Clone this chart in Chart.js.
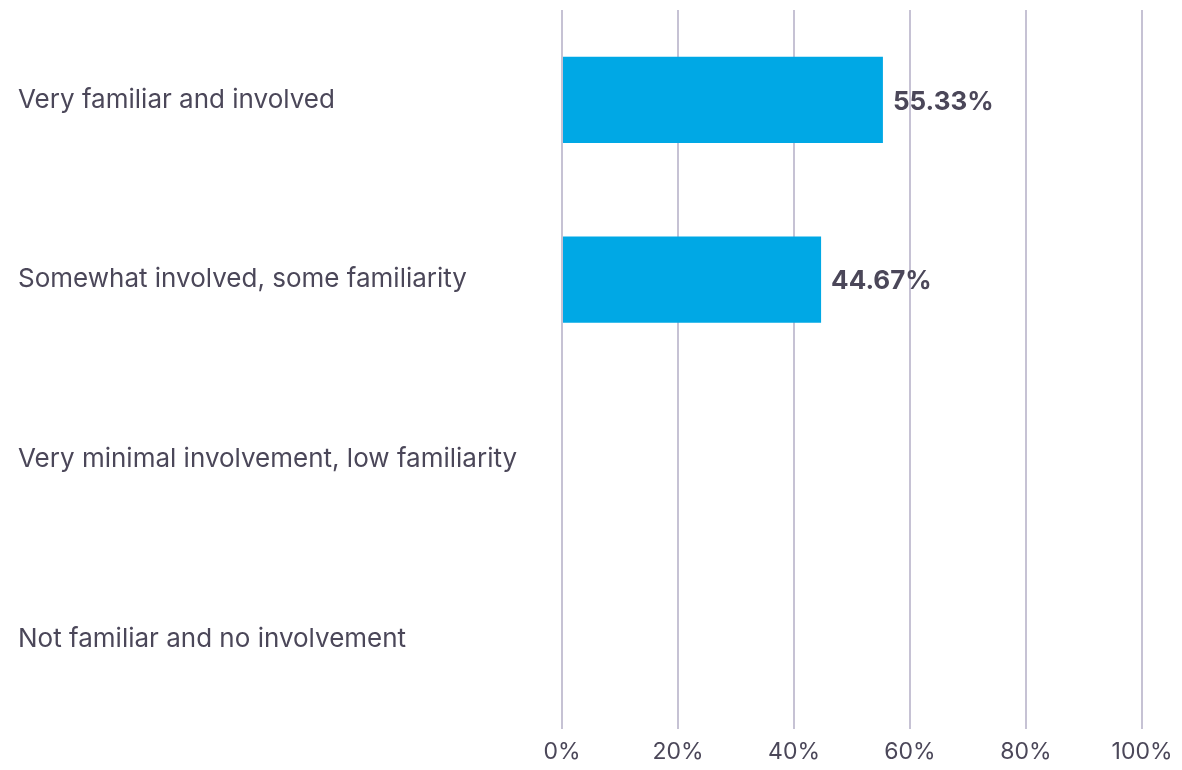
<!DOCTYPE html>
<html>
<head>
<meta charset="utf-8">
<script src="https://cdn.jsdelivr.net/npm/chart.js@4.4.1/dist/chart.umd.min.js"></script>
<style>
  html, body { margin: 0; padding: 0; background: #fff; }
  #wrap { width: 1182px; height: 770px; }
</style>
</head>
<body>
<div id="wrap"><canvas id="familiarityChart" width="1182" height="770"></canvas></div>
<script>
const categories = [
  'Very familiar and involved',
  'Somewhat involved, some familiarity',
  'Very minimal involvement, low familiarity',
  'Not familiar and no involvement'
];
const shares = [55.33, 44.67, 0, 0];
const xTicks = [0, 20, 40, 60, 80, 100];

const textColor = '#4b4759';
const fontName = 'Inter, "Noto Sans", sans-serif';

// writes the percentage at the end of each non-empty bar
const valueLabels = {
  id: 'valueLabels',
  afterDatasetsDraw(chart) {
    const ctx = chart.ctx;
    const meta = chart.getDatasetMeta(0);
    ctx.save();
    ctx.font = 'bold 26px ' + fontName;
    ctx.fillStyle = textColor;
    ctx.textAlign = 'left';
    ctx.textBaseline = 'middle';
    meta.data.forEach((bar, i) => {
      const v = chart.data.datasets[0].data[i];
      if (!v) return;
      ctx.fillText(v.toFixed(2) + '%', bar.x + 10, bar.y + 2);
    });
    ctx.restore();
  }
};

const data = {
  labels: categories,
  datasets: [{
    data: shares,
    backgroundColor: '#00a8e5',
    borderWidth: 0,
    categoryPercentage: 1,
    barPercentage: 0.48
  }]
};

const config = {
  type: 'bar',
  data: data,
  options: {
    indexAxis: 'y',
    responsive: false,
    animation: false,
    layout: { padding: { left: 18, right: 40, top: 10, bottom: 0 } },
    plugins: {
      legend: { display: false },
      tooltip: { enabled: false }
    },
    scales: {
      x: {
        min: 0,
        max: 100,
        afterBuildTicks(scale) {
          scale.ticks = xTicks.map(v => ({ value: v }));
        },
        afterFit(scale) { scale.height = 41; },
        ticks: {
          padding: 9,
          color: textColor,
          font: { family: fontName, size: 23 },
          callback: v => v + '%'
        },
        grid: { color: '#c6c2d4', lineWidth: 2, drawTicks: false },
        border: { display: false }
      },
      y: {
        afterFit(scale) {
          scale.width = 544;
          // labels sit mid-band, so no extra room above/below is needed
          scale.paddingTop = 0;
          scale.paddingBottom = 0;
        },
        ticks: {
          crossAlign: 'far',
          padding: 0,
          color: textColor,
          font: { family: fontName, size: 26 }
        },
        grid: { display: false, drawTicks: false },
        border: { display: false }
      }
    }
  },
  plugins: [valueLabels]
};

const myChart = new Chart(
  document.getElementById('familiarityChart'),
  config
);
</script>
</body>
</html>
